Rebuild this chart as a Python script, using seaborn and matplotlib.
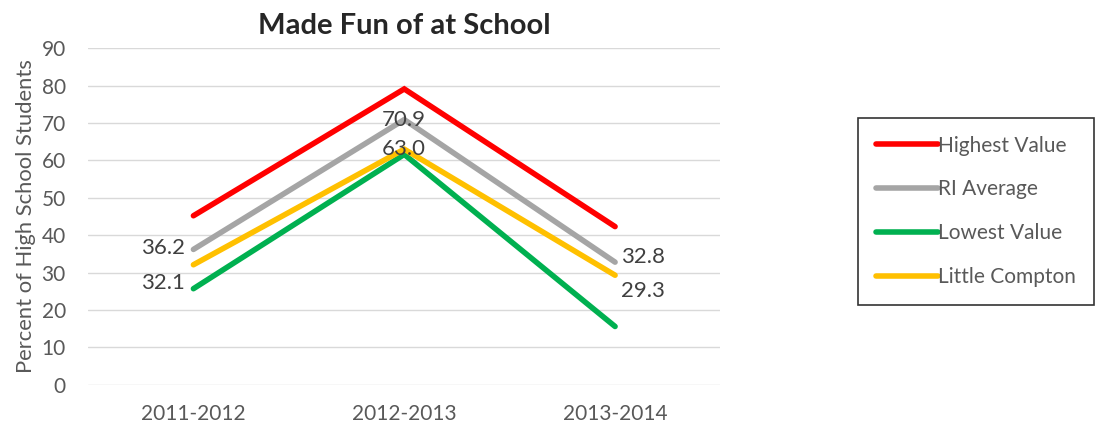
import pandas as pd
import seaborn as sns
import matplotlib.pyplot as plt

# datos
years = ['2011-2012', '2012-2013', '2013-2014']
highest = [45.2, 79.1, 42.3]
ri_avg = [36.2, 70.9, 32.8]
lowest = [25.7, 61.6, 15.6]
little_compton = [32.1, 63.0, 29.3]
series_names = ['Highest Value', 'RI Average', 'Lowest Value', 'Little Compton']
colors = ['#FF0000', '#A5A5A5', '#00B050', '#FFC000']
yticks = list(range(0, 100, 10))

df = pd.DataFrame({
    'Year': years * 4,
    'Series': [s for s in series_names for _ in years],
    'Value': highest + ri_avg + lowest + little_compton,
})
df['x'] = df['Year'].map({y: i for i, y in enumerate(years)})

sns.set_style('white')
plt.rcParams['font.family'] = ['Lato', 'DejaVu Sans']

fig = plt.figure(figsize=(11, 4.3), dpi=100)
ax = fig.add_axes([0.08, 0.105, 0.575, 0.783])

sns.lineplot(data=df, x='x', y='Value', hue='Series', hue_order=series_names,
             palette=colors, linewidth=4.0, ax=ax, legend=True,
             solid_capstyle='round', solid_joinstyle='miter')

ax.set_xlim(-0.5, 2.5)
ax.set_ylim(0, 90)
ax.set_yticks(yticks)
ax.set_xticks(range(len(years)))
ax.set_xticklabels(years)
ax.grid(axis='y', color='#D9D9D9', linewidth=1)
ax.set_axisbelow(True)
sns.despine(ax=ax, left=True, bottom=True)
ax.tick_params(axis='both', length=0, labelsize=15, labelcolor='#595959')
ax.tick_params(axis='x', pad=14)
ax.tick_params(axis='y', pad=16)
ax.set_xlabel('')
ax.set_ylabel('Percent of High School Students', fontsize=15.8, color='#595959',
              labelpad=4)
ax.set_title('Made Fun of at School', fontsize=21, fontweight='bold', pad=10)

# etiquetas de datos
lab_kw = dict(fontsize=16, color='#404040')
ax.annotate(f'{ri_avg[0]:.1f}', (0, ri_avg[0]), xytext=(-6, 1),
            textcoords='offset points', ha='right', va='center', **lab_kw)
ax.annotate(f'{little_compton[0]:.1f}', (0, little_compton[0]), xytext=(-6, -13),
            textcoords='offset points', ha='right', va='center', **lab_kw)
for vals in (ri_avg, little_compton):
    ax.annotate(f'{vals[1]:.1f}', (1, vals[1]), xytext=(0, 0),
                textcoords='offset points', ha='center', va='center', **lab_kw)
ax.annotate(f'{ri_avg[2]:.1f}', (2, ri_avg[2]), xytext=(4, 4),
            textcoords='offset points', ha='left', va='center', **lab_kw)
ax.annotate(f'{little_compton[2]:.1f}', (2, little_compton[2]), xytext=(4, -11),
            textcoords='offset points', ha='left', va='center', **lab_kw)

leg = ax.legend(loc='upper left', bbox_to_anchor=(0.78, 0.726),
                bbox_transform=fig.transFigure, borderaxespad=0,
                frameon=True, fancybox=False, fontsize=15,
                handlelength=3.0, handletextpad=0.0, labelspacing=1.15,
                borderpad=0.85, labelcolor='#595959')
leg.get_frame().set_edgecolor('black')
leg.get_frame().set_linewidth(1.2)
for line in leg.get_lines():
    line.set_linewidth(4.0)

plt.savefig('out.png', dpi=100)
